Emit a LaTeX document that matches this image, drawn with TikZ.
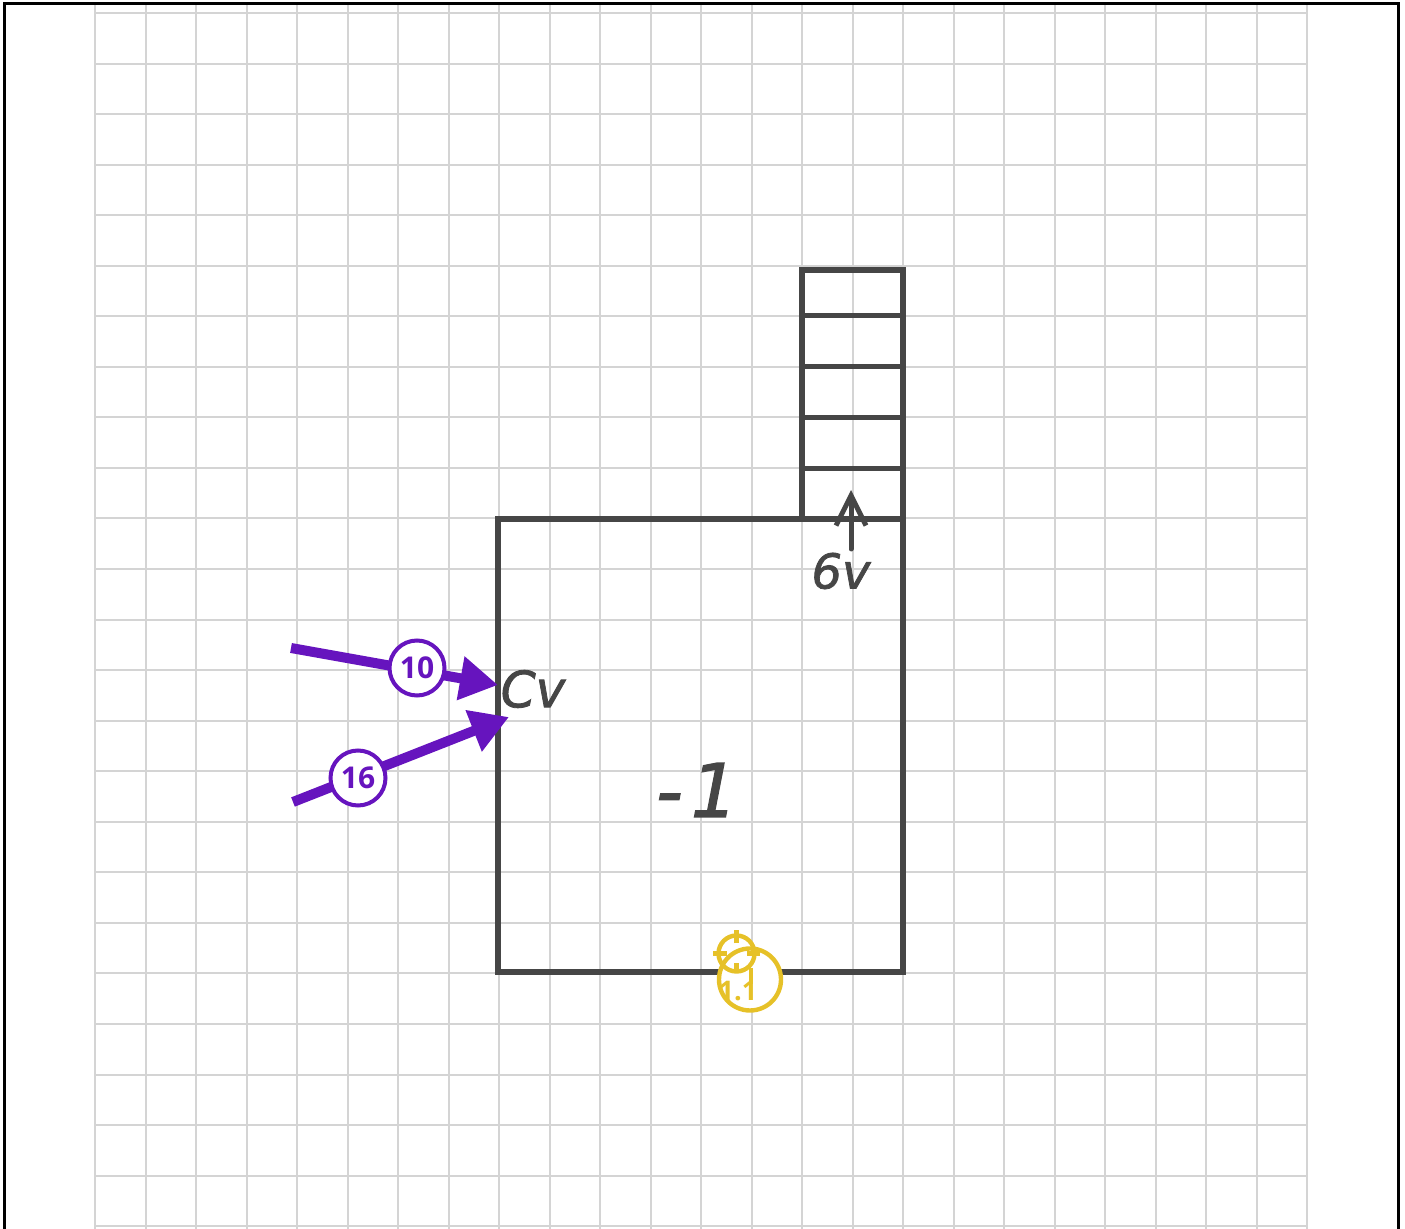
\documentclass[tikz,border=0pt]{standalone}
\usepackage{fontspec}
\usepackage{xcolor}
\usetikzlibrary{arrows.meta}
\newfontfamily\badgefont{Open Sans}
\newfontfamily\inkfont[FakeBold=1.6]{DejaVu Sans}
\definecolor{GridGray}{RGB}{212,212,212}
\definecolor{InkGray}{RGB}{70,70,70}
\definecolor{ForcePurple}{RGB}{102,20,190}
\definecolor{MarkYellow}{RGB}{230,193,40}
\tikzset{
    gridline/.style={draw=GridGray, line width=1pt},
    frameline/.style={draw=black, line width=1.8pt},
    wall/.style={draw=InkGray, line width=2.8pt, line cap=round},
    rung/.style={draw=InkGray, line width=2.5pt, line cap=round},
    inklabel/.style={text=InkGray, inner sep=0pt, font=\inkfont\itshape\fontsize{25}{25}\selectfont},
    forcearrow/.style={draw=ForcePurple, line width=5pt, -{Triangle[length=19pt,width=21pt]}},
    forcebadge/.style={
        circle,
        draw=ForcePurple,
        fill=white,
        line width=2pt,
        text=ForcePurple,
        font=\badgefont\fontsize{15}{15}\selectfont\bfseries,
        minimum size=27.5pt,
        inner sep=0pt
    },
    bigmark/.style={
        circle,
        draw=MarkYellow,
        fill=white,
        line width=2.2pt,
        minimum size=31pt,
        inner sep=0pt
    },
    targetmark/.style={circle, draw=MarkYellow, line width=2.2pt, minimum size=18pt, inner sep=0pt},
    tickmark/.style={draw=MarkYellow, line width=2.4pt}
}
\begin{document}
\begin{tikzpicture}[x=0.5pt, y=-0.5pt]
    \useasboundingbox (0,0) rectangle (1405,1229);

    % --- grid ---
    \foreach \i in {0,...,24} {
        \draw[gridline] ({95+50.5*\i},5) -- ({95+50.5*\i},1229);
        \draw[gridline] (95,{13+50.55*\i}) -- (1307,{13+50.55*\i});
    }

    % --- page frame, open at the bottom ---
    \coordinate (frameSW) at (4.5,1229);
    \coordinate (frameNW) at (4.5,3.5);
    \coordinate (frameNE) at (1398.5,3.5);
    \coordinate (frameSE) at (1398.5,1229);
    \draw[frameline] (frameSW) -- (frameNW) -- (frameNE) -- (frameSE);

    % --- main box ---
    \coordinate (boxNW) at (498,519);
    \coordinate (boxNE) at (903,519);
    \coordinate (boxSW) at (498,972);
    \coordinate (boxSE) at (903,972);
    \draw[wall] (boxNE) -- (boxNW) -- (boxSW) -- (boxSE) -- cycle;

    % --- stack on top of the box ---
    \coordinate (stackBL) at (802,519);
    \coordinate (stackTL) at (802,270);
    \coordinate (stackTR) at (903,270);
    \draw[wall] (stackBL) -- (stackTL) -- (stackTR) -- (boxNE);
    \foreach \y [count=\n] in {316,367,418,469} {
        \coordinate (rungL\n) at (802,\y);
        \coordinate (rungR\n) at (903,\y);
        \draw[rung] (rungL\n) -- (rungR\n);
    }

    % --- velocity arrow and labels ---
    \coordinate (flowStart) at (851,549);
    \coordinate (flowTip) at (851,490);
    \draw[draw=InkGray, line width=2.5pt, line cap=round, -{Straight Barb[length=15pt,width=15pt]}] (flowStart) -- (flowTip);
    \node[inklabel, font=\inkfont\itshape\fontsize{24}{24}\selectfont] (sixV) at (841,571) {6v};
    \node[inklabel] (cV) at (533,689) {Cv};
    \node[inklabel, font=\inkfont\itshape\fontsize{37}{37}\selectfont] (minusOne) at (697,790) {-\hspace{4pt}1};

    % --- purple forces ---
    \coordinate (forceA) at (291,648);
    \coordinate (tipA) at (498,685);
    \coordinate (forceB) at (293,802);
    \coordinate (tipB) at (509,717);
    \draw[forcearrow] (forceA) -- (tipA);
    \draw[forcearrow] (forceB) -- (tipB);
    \node[forcebadge] (badgeTen) at (417,668) {10};
    \node[forcebadge] (badgeSixteen) at (358,778) {16};

    % --- yellow marks ---
    \node[bigmark] (bigMark) at (750,979.5) {};
    \node[text=MarkYellow, inner sep=0pt, font=\badgefont\fontsize{13.5}{13.5}\selectfont\bfseries] (markText) at (738,991) {1.1};
    \node[targetmark] (target) at (736.5,953.5) {};
    \foreach \a/\r in {0/23.5,90/20,180/23.5,270/23.5} {
        \draw[tickmark] (target.center) ++(\a:10) -- ++(\a:\r-10);
    }
    \coordinate (stemTop) at (751,968);
    \coordinate (stemEnd) at (751,984);
    \draw[tickmark] (stemTop) -- (stemEnd);
\end{tikzpicture}
\end{document}
